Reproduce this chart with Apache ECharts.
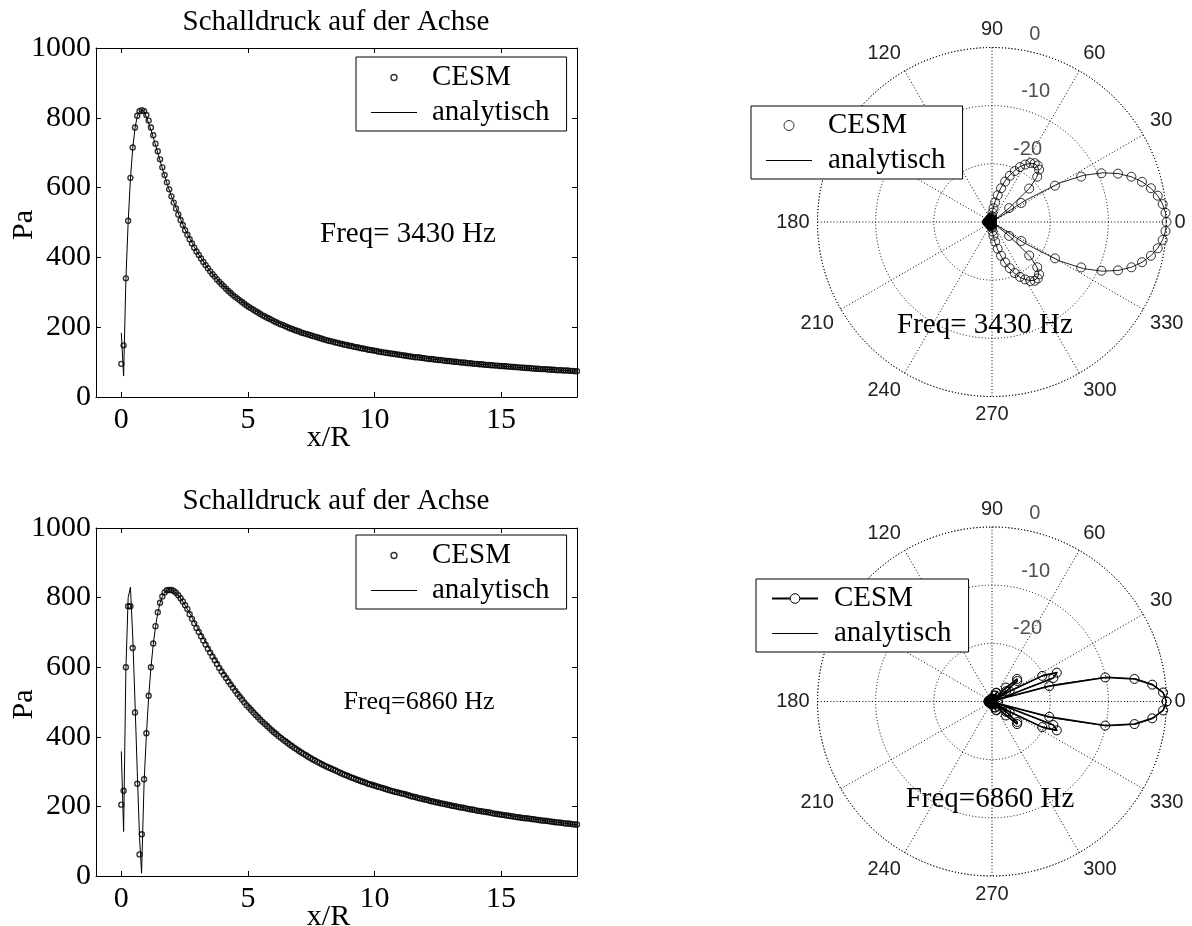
<!DOCTYPE html>
<html>
<head>
<meta charset="utf-8">
<title>Schalldruck auf der Achse</title>
<script src="https://cdn.jsdelivr.net/npm/echarts@6/dist/echarts.min.js"></script>
<style>
  html, body { margin: 0; padding: 0; background: #fff; }
  #chart { width: 1192px; height: 926px; }
</style>
</head>
<body>
<div id="chart"></div>
<script>
// ---- on-axis pressure, CESM samples on a regular x/R grid ----
const xStep = 0.09;
const xTicks = [0, 5, 10, 15];
const yTicks = [0, 200, 400, 600, 800, 1000];

const cesm3430 = [
  95, 148, 340, 505, 628, 715, 772, 806, 819, 822,
  819, 808, 792, 772, 750, 726, 704, 681, 658, 636,
  615, 595, 575, 557, 540, 523, 507, 493, 478, 465,
  452, 440, 428, 417, 407, 397, 387, 378, 369, 360,
  352, 345, 337, 330, 323, 317, 310, 304, 298, 292,
  287, 282, 277, 272, 267, 262, 258, 254, 250, 246,
  242, 238, 234, 231, 227, 224, 221, 217, 214, 211,
  208, 206, 203, 200, 197, 195, 192, 190, 188, 185,
  183, 181, 179, 177, 175, 173, 171, 169, 167, 165,
  163, 161, 160, 158, 156, 155, 153, 152, 150, 149,
  147, 146, 144, 143, 142, 140, 139, 138, 136, 135,
  134, 133, 132, 130, 129, 128, 127, 126, 125, 124,
  123, 122, 121, 120, 119, 118, 117, 116, 115, 114,
  114, 113, 112, 111, 110, 109, 109, 108, 107, 106,
  106, 105, 104, 103, 103, 102, 101, 101, 100, 99,
  99, 98, 97, 97, 96, 95, 95, 94, 94, 93,
  92, 92, 91, 91, 90, 90, 89, 89, 88, 88,
  87, 87, 86, 86, 85, 85, 84, 84, 83, 83,
  82, 82, 81, 81, 80, 80, 80, 79, 79, 78,
  78, 77, 77, 77, 76, 76, 76, 75, 75, 74,
  74
];

const cesm6860 = [
  205, 245, 600, 775, 775, 655, 470, 265, 62, 120,
  278, 410, 518, 600, 668, 718, 758, 785, 803, 815,
  821, 822, 822, 819, 814, 807, 798, 789, 778, 767,
  752, 739, 726, 713, 701, 689, 677, 665, 653, 642,
  631, 620, 609, 598, 588, 578, 569, 559, 550, 541,
  532, 523, 515, 507, 499, 491, 484, 477, 470, 463,
  456, 449, 443, 437, 431, 425, 419, 413, 408, 402,
  397, 392, 387, 382, 377, 373, 368, 364, 359, 355,
  351, 347, 343, 339, 335, 332, 328, 325, 321, 318,
  315, 312, 309, 306, 303, 300, 297, 294, 291, 289,
  286, 283, 281, 278, 276, 273, 271, 269, 266, 264,
  262, 260, 258, 256, 254, 252, 250, 248, 246, 244,
  242, 241, 239, 237, 236, 234, 232, 230, 228, 227,
  225, 223, 222, 220, 219, 217, 215, 214, 212, 211,
  209, 208, 207, 205, 204, 202, 201, 200, 198, 197,
  196, 195, 193, 192, 191, 190, 188, 187, 186, 185,
  184, 183, 182, 180, 179, 178, 177, 176, 175, 174,
  173, 172, 171, 170, 169, 168, 167, 166, 166, 165,
  164, 163, 162, 161, 160, 159, 159, 158, 157, 156,
  155, 154, 154, 153, 152, 151, 151, 150, 149, 148,
  148
];

// analytic solution (line)
const anaX3430 = [0, 0.09, 0.18, 0.27, 0.36, 0.45, 0.54, 0.63, 0.72, 0.81, 0.9, 1.0, 1.2, 1.4, 1.6,
  1.8, 2.0, 2.5, 3.0, 3.5, 4.0, 5.0, 6.0, 7.0, 8.0, 10, 12, 14, 16, 18];
const anaY3430 = [184, 60, 335, 500, 625, 712, 770, 805, 818, 822, 818, 801, 759, 710, 660,
  613, 571, 482, 414, 361, 320, 260, 218, 188, 165, 133, 111, 95, 83, 74];

const anaX6860 = [0, 0.09, 0.18, 0.27, 0.36, 0.45, 0.54, 0.63, 0.72, 0.8,
  0.9, 0.99, 1.08, 1.17, 1.26, 1.35, 1.44, 1.53, 1.62, 1.71,
  1.8, 1.9, 2.0, 2.2, 2.4, 2.6, 2.8, 3.0, 3.5, 4.0,
  4.5, 5.0, 6.0, 7.0, 8.0, 9.0, 10, 12, 14, 16, 18];
const anaY6860 = [358, 128, 590, 800, 830, 690, 500, 300, 110, 8,
  270, 405, 515, 598, 665, 716, 756, 784, 803, 815,
  821, 823, 821, 811, 792, 768, 742, 715, 649, 590,
  538, 493, 421, 366, 324, 290, 262, 220, 189, 166, 147];

// ---- directivity in dB, one value every 3 degrees (0..357) ----
const angleStep = 3;
const rTicks = [-20, -10, 0];
const rLabelAngle = 82;

const cesmPol3430 = [
  0, -0.13, -0.5, -1.15, -2.07, -3.3, -4.8, -6.8, -9.4, -12.8,
  -17.5, -24, -30, -26.2, -21.4, -19, -17.9, -17.5, -17.5, -17.9,
  -18.6, -19.4, -20.4, -21.5, -22.7, -24, -25.3, -26.6, -27.6, -28.4,
  -29, -29.2, -29.4, -29.5, -29.6, -29.6, -29.5, -29.4, -29.3, -29.3,
  -29.4, -29.5, -29.6, -29.7, -29.7, -29.6, -29.5, -29.4, -29.4, -29.5,
  -29.6, -29.7, -29.7, -29.6, -29.5, -29.4, -29.3, -29.3, -29.2, -29.2,
  -29.2, -29.2, -29.2, -29.3, -29.3, -29.4, -29.5, -29.6, -29.7, -29.7,
  -29.6, -29.5, -29.4, -29.4, -29.5, -29.6, -29.7, -29.7, -29.6, -29.5,
  -29.4, -29.3, -29.3, -29.4, -29.5, -29.6, -29.6, -29.5, -29.4, -29.2,
  -29, -28.4, -27.6, -26.6, -25.3, -24, -22.7, -21.5, -20.4, -19.4,
  -18.6, -17.9, -17.5, -17.5, -17.9, -19, -21.4, -26.2, -30, -24,
  -17.5, -12.8, -9.4, -6.8, -4.8, -3.3, -2.07, -1.15, -0.5, -0.13
];
const anaPol3430 = [
  0, -0.13, -0.51, -1.15, -2.07, -3.28, -4.82, -6.77, -9.21, -12.33,
  -16.6, -23.3, -30, -26.2, -21.3, -19.1, -18, -17.6, -17.6, -18,
  -18.6, -19.3, -20.3, -21.3, -22.4, -23.8, -25.1, -26.3, -27.3, -28.1,
  -28.8, -29.2, -29.4, -29.5, -29.6, -29.6, -29.5, -29.4, -29.3, -29.3,
  -29.4, -29.5, -29.6, -29.7, -29.7, -29.6, -29.5, -29.4, -29.4, -29.5,
  -29.6, -29.7, -29.7, -29.6, -29.5, -29.4, -29.3, -29.3, -29.2, -29.2,
  -29.2, -29.2, -29.2, -29.3, -29.3, -29.4, -29.5, -29.6, -29.7, -29.7,
  -29.6, -29.5, -29.4, -29.4, -29.5, -29.6, -29.7, -29.7, -29.6, -29.5,
  -29.4, -29.3, -29.3, -29.4, -29.5, -29.6, -29.6, -29.5, -29.4, -29.2,
  -28.8, -28.1, -27.3, -26.3, -25.1, -23.8, -22.4, -21.3, -20.3, -19.3,
  -18.6, -18, -17.6, -17.6, -18, -19.1, -21.3, -26.2, -30, -23.3,
  -16.6, -12.33, -9.21, -6.77, -4.82, -3.28, -2.07, -1.15, -0.51, -0.13
];

const cesmPol6860 = [
  0, -0.55, -2.3, -5.2, -10.1, -19.8, -28.9, -18.7, -17.8, -20.3,
  -26.5, -30, -27, -24.4, -24.2, -26.6, -29.5, -30, -30, -29.6,
  -28.8, -28.3, -28.4, -28.9, -29.5, -29.9, -30, -30, -29.9, -29.8,
  -29.7, -29.6, -29.6, -29.7, -29.7, -29.8, -29.8, -29.7, -29.7, -29.6,
  -29.6, -29.7, -29.8, -29.8, -29.7, -29.6, -29.6, -29.7, -29.8, -29.8,
  -29.7, -29.6, -29.6, -29.5, -29.5, -29.6, -29.6, -29.5, -29.5, -29.4,
  -29.4, -29.4, -29.5, -29.5, -29.6, -29.6, -29.5, -29.5, -29.6, -29.6,
  -29.7, -29.8, -29.8, -29.7, -29.6, -29.6, -29.7, -29.8, -29.8, -29.7,
  -29.6, -29.6, -29.7, -29.7, -29.8, -29.8, -29.7, -29.7, -29.6, -29.6,
  -29.7, -29.8, -29.9, -30, -30, -29.9, -29.5, -28.9, -28.4, -28.3,
  -28.8, -29.6, -30, -30, -29.5, -26.6, -24.2, -24.4, -27, -30,
  -26.5, -20.3, -17.8, -18.7, -28.9, -19.8, -10.1, -5.2, -2.3, -0.55
];
const anaPol6860 = [
  0, -0.51, -2.1, -4.97, -9.73, -18.8, -28.9, -18.7, -17.7, -20,
  -26.5, -30, -27.1, -24.3, -24.2, -26.6, -30, -30, -30, -30,
  -28.6, -28.1, -28.3, -28.9, -29.7, -30, -30, -30, -30, -30,
  -30, -30, -30, -30, -30, -30, -30, -30, -30, -30,
  -30, -30, -30, -30, -30, -30, -30, -30, -30, -30,
  -30, -30, -30, -30, -30, -30, -30, -30, -30, -30,
  -30, -30, -30, -30, -30, -30, -30, -30, -30, -30,
  -30, -30, -30, -30, -30, -30, -30, -30, -30, -30,
  -30, -30, -30, -30, -30, -30, -30, -30, -30, -30,
  -30, -30, -30, -30, -30, -30, -29.7, -28.9, -28.3, -28.1,
  -28.6, -30, -30, -30, -30, -26.6, -24.2, -24.3, -27.1, -30,
  -26.5, -20, -17.7, -18.7, -28.9, -18.8, -9.73, -4.97, -2.1, -0.51
];

const serif = "'Liberation Serif', 'Times New Roman', serif";
const sans = "'Liberation Sans', Arial, sans-serif";
const dots = [1, 2.2];
const hollow = { color: 'rgba(0,0,0,0)', borderColor: '#000', borderWidth: 1 };
const hollowThick = { color: 'rgba(0,0,0,0)', borderColor: '#000', borderWidth: 1.4 };
const lineIcon = 'path://M0,0H46V1H0Z';

const toXY = vals => vals.map((v, i) => [+(i * xStep).toFixed(2), v]);
const zip = (xs, ys) => xs.map((x, i) => [x, ys[i]]);
const toPolar = vals => vals.map((v, i) => [v, i * angleStep]);
const closeLoop = pts => pts.concat([[pts[0][0], 360]]);

const chart = echarts.init(document.getElementById('chart'));

function xAxesFor(gi) {
  const base = {
    gridIndex: gi, type: 'value', min: -1, max: 18,
    splitLine: { show: false },
    axisLine: { show: true, onZero: false, lineStyle: { color: '#000', width: 1 } },
    axisTick: { show: true, inside: true, length: 5, customValues: xTicks, lineStyle: { color: '#000' } }
  };
  return [
    Object.assign({}, base, {
      position: 'bottom',
      axisLabel: { customValues: xTicks, margin: 8, color: '#000', fontFamily: serif, fontSize: 30 },
      name: 'x/R', nameLocation: 'middle', nameGap: 26, nameMoveOverlap: false,
      nameTextStyle: { color: '#000', fontFamily: serif, fontSize: 30, padding: [0, 16, 0, 0] }
    }),
    Object.assign({}, base, { position: 'top', axisLabel: { show: false } })
  ];
}

function yAxesFor(gi) {
  const base = {
    gridIndex: gi, type: 'value', min: 0, max: 1000,
    splitLine: { show: false },
    axisLine: { show: true, onZero: false, lineStyle: { color: '#000', width: 1 } },
    axisTick: { show: true, inside: true, length: 5, customValues: yTicks, lineStyle: { color: '#000' } }
  };
  return [
    Object.assign({}, base, {
      position: 'left',
      axisLabel: {
        customValues: yTicks, margin: 5, color: '#000', fontFamily: serif, fontSize: 30,
        formatter: v => String(v)
      },
      name: 'Pa', nameLocation: 'middle', nameGap: 57, nameRotate: 90, nameMoveOverlap: false,
      nameTextStyle: { color: '#000', fontFamily: serif, fontSize: 30, padding: [0, 5, 0, 0] }
    }),
    Object.assign({}, base, { position: 'right', axisLabel: { show: false } })
  ];
}

function angleAxisFor(pi) {
  return {
    polarIndex: pi, type: 'value', min: 0, max: 360, interval: 30,
    startAngle: 0, clockwise: false,
    axisLine: { show: true, lineStyle: { color: '#000', width: 1, type: dots } },
    axisTick: { show: false },
    axisLabel: { margin: 8, color: '#222', fontFamily: sans, fontSize: 20 },
    splitLine: { show: true, lineStyle: { color: '#000', width: 1, type: dots } }
  };
}

function radiusAxisFor(pi) {
  return {
    polarIndex: pi, type: 'value', min: -30, max: 0, interval: 10,
    axisLine: { show: false }, axisTick: { show: false }, axisLabel: { show: false },
    splitLine: { show: true, lineStyle: { color: '#000', width: 1, type: dots } }
  };
}

function rLabels(pi) {
  return {
    type: 'scatter', coordinateSystem: 'polar', polarIndex: pi, silent: true,
    data: rTicks.map(v => [v, rLabelAngle]),
    symbolSize: 0, itemStyle: { color: 'rgba(0,0,0,0)' },
    label: {
      show: true, position: 'right', distance: 0, offset: [13, -15],
      formatter: p => String(p.value[0]),
      fontFamily: sans, fontSize: 20, color: '#222'
    }
  };
}

const legendText = { fontFamily: serif, fontSize: 29, color: '#000' };
function legendBox(extra) {
  return Object.assign({
    orient: 'vertical', itemWidth: 46, itemGap: 6, selectedMode: false,
    borderColor: '#000', borderWidth: 1, backgroundColor: '#fff',
    formatter: name => name.split('|')[0]
  }, extra);
}

function label(text, x, y, size) {
  return {
    type: 'text', x: x, y: y, silent: true,
    style: { text: text, fill: '#000', fontFamily: serif, fontSize: size, align: 'center', verticalAlign: 'middle' }
  };
}

const option = {
  animation: false,
  backgroundColor: '#fff',
  grid: [
    { left: 96, top: 48, right: 615, bottom: 529, outerBoundsMode: 'none' },
    { left: 96, top: 528, right: 615, bottom: 50, outerBoundsMode: 'none' }
  ],
  xAxis: xAxesFor(0).concat(xAxesFor(1)),
  yAxis: yAxesFor(0).concat(yAxesFor(1)),
  polar: [
    { center: [992, 222], radius: 174.5 },
    { center: [992, 701.5], radius: 174.5 }
  ],
  angleAxis: [angleAxisFor(0), angleAxisFor(1)],
  radiusAxis: [radiusAxisFor(0), radiusAxisFor(1)],
  legend: [
    legendBox({
      left: 356, top: 57, itemHeight: 6, padding: [6, 17, 4, 15],
      textStyle: Object.assign({ padding: [0, 0, 0, 10] }, legendText),
      data: [
        { name: 'CESM|1', icon: 'circle', itemStyle: hollowThick },
        { name: 'analytisch|1', icon: lineIcon, itemStyle: { color: '#000', borderWidth: 0 } }
      ]
    }),
    legendBox({
      left: 356, top: 535, itemHeight: 6, padding: [6, 17, 4, 15],
      textStyle: Object.assign({ padding: [0, 0, 0, 10] }, legendText),
      data: [
        { name: 'CESM|2', icon: 'circle', itemStyle: hollowThick },
        { name: 'analytisch|2', icon: lineIcon, itemStyle: { color: '#000', borderWidth: 0 } }
      ]
    }),
    legendBox({
      left: 751, top: 106, itemHeight: 10, padding: [5, 17, 4, 15],
      textStyle: Object.assign({ padding: [0, 0, 0, 11] }, legendText),
      data: [
        { name: 'CESM|3', icon: 'circle', itemStyle: hollow },
        { name: 'analytisch|3', icon: lineIcon, itemStyle: { color: '#000', borderWidth: 0 } }
      ]
    }),
    legendBox({
      left: 756, top: 579, itemHeight: 12, padding: [5, 17, 4, 15],
      textStyle: Object.assign({ padding: [0, 0, 0, 11] }, legendText),
      data: [
        { name: 'CESM|4', itemStyle: { color: '#fff', borderColor: '#000', borderWidth: 1 } },
        { name: 'analytisch|4', icon: lineIcon, itemStyle: { color: '#000', borderWidth: 0 } }
      ]
    })
  ],
  graphic: [
    label('Schalldruck auf der Achse', 336, 22, 29),
    label('Schalldruck auf der Achse', 336, 501, 29),
    label('Freq= 3430 Hz', 408, 234, 29),
    label('Freq=6860 Hz', 419, 702, 26),
    label('Freq= 3430 Hz', 985, 325, 29),
    label('Freq=6860 Hz', 990, 799, 29)
  ],
  series: [
    {
      name: 'analytisch|1', type: 'line', xAxisIndex: 0, yAxisIndex: 0,
      data: zip(anaX3430, anaY3430), symbol: 'none', z: 2,
      lineStyle: { color: '#000', width: 1 }, itemStyle: { color: '#000' }
    },
    {
      name: 'CESM|1', type: 'scatter', xAxisIndex: 0, yAxisIndex: 0,
      data: toXY(cesm3430), symbol: 'circle', symbolSize: 5, z: 3, itemStyle: hollowThick
    },
    {
      name: 'analytisch|2', type: 'line', xAxisIndex: 2, yAxisIndex: 2,
      data: zip(anaX6860, anaY6860), symbol: 'none', z: 2,
      lineStyle: { color: '#000', width: 1 }, itemStyle: { color: '#000' }
    },
    {
      name: 'CESM|2', type: 'scatter', xAxisIndex: 2, yAxisIndex: 2,
      data: toXY(cesm6860), symbol: 'circle', symbolSize: 5, z: 3, itemStyle: hollowThick
    },
    {
      name: 'analytisch|3', type: 'line', coordinateSystem: 'polar', polarIndex: 0,
      data: closeLoop(toPolar(anaPol3430)), symbol: 'none', z: 2,
      lineStyle: { color: '#222', width: 1 }, itemStyle: { color: '#000' }
    },
    {
      name: 'CESM|3', type: 'scatter', coordinateSystem: 'polar', polarIndex: 0,
      data: toPolar(cesmPol3430), symbol: 'circle', symbolSize: 9, z: 3, itemStyle: hollow
    },
    {
      name: 'analytisch|4', type: 'line', coordinateSystem: 'polar', polarIndex: 1,
      data: closeLoop(toPolar(anaPol6860)), symbol: 'none', z: 2,
      lineStyle: { color: '#222', width: 1 }, itemStyle: { color: '#000' }
    },
    {
      name: 'CESM|4', type: 'line', coordinateSystem: 'polar', polarIndex: 1,
      data: closeLoop(toPolar(cesmPol6860)), symbol: 'circle', symbolSize: 9, showSymbol: true, z: 3,
      lineStyle: { color: '#000', width: 1.6 }, itemStyle: hollow
    },
    rLabels(0),
    rLabels(1)
  ]
};

chart.setOption(option);
</script>
</body>
</html>
